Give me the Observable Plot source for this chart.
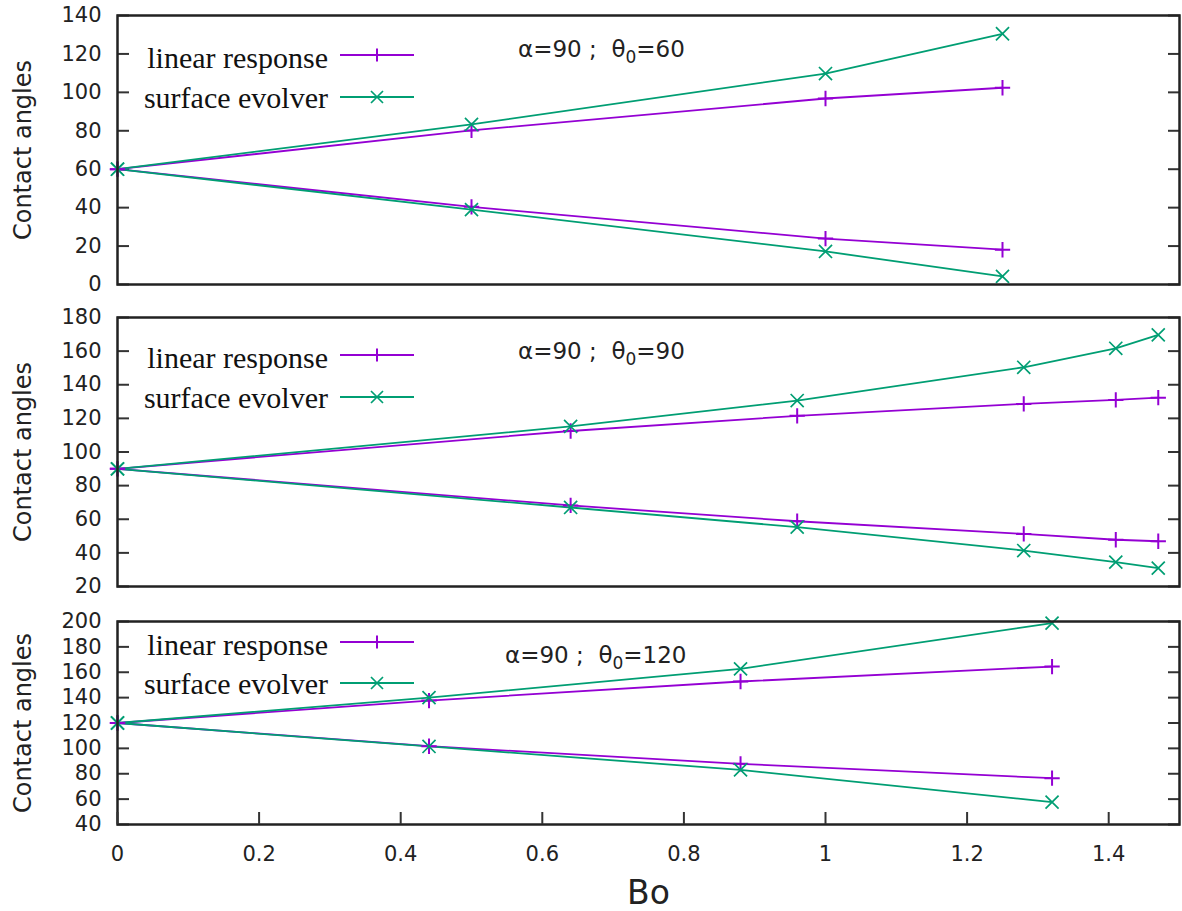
<!DOCTYPE html>
<html><head><meta charset="utf-8">
<script src="https://cdn.jsdelivr.net/npm/d3@7"></script>
<script src="https://cdn.jsdelivr.net/npm/@observablehq/plot@0.6"></script>
<style>
body{margin:0;background:#fff;}
#chart{position:relative;width:1182px;height:911px;}
#chart svg.panel{display:block;}
#overlay{position:absolute;left:0;top:0;pointer-events:none;}
</style></head><body><div id="chart"></div>
<script>
// ---- data ----
const seriesNames = ["linear response", "surface evolver"];
const seriesColors = ["#9400d3", "#009e73"];
const seriesSymbols = ["plus", "times"];

// panel 1: alpha=90, theta0=60
const bo60 = [0, 0.5, 1, 1.25];
const lin60Up = [60, 80.2, 96.8, 102.4];
const lin60Down = [60, 40.4, 23.9, 18.1];
const se60Up = [60, 83.3, 109.8, 130.5];
const se60Down = [60, 39, 17.2, 4.2];

// panel 2: alpha=90, theta0=90
const bo90 = [0, 0.64, 0.96, 1.28, 1.41, 1.47];
const lin90Up = [90, 112.5, 121.5, 128.6, 131, 132.3];
const lin90Down = [90, 68.2, 58.8, 51.3, 47.8, 46.9];
const se90Up = [90, 115.2, 130.6, 150.4, 161.7, 169.7];
const se90Down = [90, 67, 55.3, 41.4, 34.5, 30.9];

// panel 3: alpha=90, theta0=120
const bo120 = [0, 0.44, 0.88, 1.32];
const lin120Up = [120, 137.7, 152.7, 164.5];
const lin120Down = [120, 101.7, 87.8, 76.5];
const se120Up = [120, 140, 162.7, 198.7];
const se120Down = [120, 101.5, 83, 57.6];

const xTicks = [0, 0.2, 0.4, 0.6, 0.8, 1, 1.2, 1.4];
const yTicks60 = [0, 20, 40, 60, 80, 100, 120, 140];
const yTicks90 = [20, 40, 60, 80, 100, 120, 140, 160, 180];
const yTicks120 = [40, 60, 80, 100, 120, 140, 160, 180, 200];
const theta0Labels = ["60", "90", "120"];
const yLabel = "Contact angles";
const xLabel = "Bo";

// ---- build ----
function rows(bo, linUp, linDown, seUp, seDown) {
  const out = [];
  const add = (vals, method, branch) => vals.forEach((v, i) => out.push({x: bo[i], y: v, method, branch}));
  add(linUp, seriesNames[0], "up");
  add(linDown, seriesNames[0], "down");
  add(seUp, seriesNames[1], "up");
  add(seDown, seriesNames[1], "down");
  return out;
}

const frameColor = "#222";
function panel(data, yDomain, yTicks, height, mt, mb, bottom) {
  const marks = [
    Plot.axisY(yTicks, {anchor: "left", tickSize: 0, tickPadding: 16, fontSize: 21, label: null}),
    Plot.axisY(yTicks, {anchor: "left", tickSize: 12, dx: 12, fill: "none", label: null, stroke: "#333", strokeWidth: 2}),
    Plot.axisY(yTicks, {anchor: "right", tickSize: 12, dx: -12, fill: "none", label: null, stroke: "#333", strokeWidth: 2}),
    Plot.line(data, {x: "x", y: "y", z: d => d.method + d.branch, stroke: "method", strokeWidth: 1.8}),
    Plot.dot(data.filter(d => d.method === seriesNames[0]), {x: "x", y: "y", symbol: "method", stroke: "method", r: 5, strokeWidth: 2}),
    Plot.dot(data.filter(d => d.method === seriesNames[1]), {x: "x", y: "y", symbol: "method", stroke: "method", r: 6, strokeWidth: 1.7}),
    Plot.frame({stroke: frameColor, strokeWidth: 2.5}),
    Plot.text([yLabel], {frameAnchor: "left", textAnchor: "middle", rotate: -90, dx: -94, fontSize: 24})
  ];
  if (bottom) {
    marks.push(
      Plot.axisX(xTicks, {anchor: "bottom", tickSize: 0, tickPadding: 22, fontSize: 21, tickFormat: d => String(d), label: null}),
      Plot.axisX(xTicks, {anchor: "bottom", tickSize: 12, dy: -12, fill: "none", label: null, stroke: "#333", strokeWidth: 2}),
      Plot.text([xLabel], {frameAnchor: "bottom", dy: 79, fontSize: 33})
    );
  }
  const svg = Plot.plot({
    width: 1182, height,
    marginLeft: 117, marginRight: 3, marginTop: mt, marginBottom: mb,
    x: {domain: [0, 1.5], axis: null},
    y: {domain: yDomain, axis: null},
    color: {domain: seriesNames, range: seriesColors},
    symbol: {domain: seriesNames, range: seriesSymbols},
    style: {fontFamily: "DejaVu Sans", fontSize: "21px", color: "#222", background: "transparent", overflow: "visible"},
    marks
  });
  svg.classList.add("panel");
  return svg;
}

const chart = document.getElementById("chart");
chart.append(panel(rows(bo60, lin60Up, lin60Down, se60Up, se60Down), [0, 140], yTicks60, 300, 15, 16, false));
chart.append(panel(rows(bo90, lin90Up, lin90Down, se90Up, se90Down), [20, 180], yTicks90, 300, 17, 14, false));
chart.append(panel(rows(bo120, lin120Up, lin120Down, se120Up, se120Down), [40, 200], yTicks120, 311, 21, 87, true));

// ---- overlay: legends and annotations ----
const ns = "http://www.w3.org/2000/svg";
const ov = document.createElementNS(ns, "svg");
ov.setAttribute("id", "overlay");
ov.setAttribute("width", 1182);
ov.setAttribute("height", 911);
chart.append(ov);
function el(tag, attrs, parent) {
  const e = document.createElementNS(ns, tag);
  for (const k in attrs) e.setAttribute(k, attrs[k]);
  (parent || ov).append(e);
  return e;
}
const legendRows = [[55, 97], [355, 397], [642, 683]];
const annot = [{x: 518, y: 57}, {x: 518, y: 359}, {x: 505, y: 663}];
legendRows.forEach((ys, p) => {
  ys.forEach((y, i) => {
    const t = el("text", {x: 328, y: y + (i === 0 ? 13 : 11), "text-anchor": "end", "font-family": "Liberation Serif", "font-size": 30, fill: "#111"});
    t.textContent = seriesNames[i];
    el("line", {x1: 340, x2: 414, y1: y, y2: y, stroke: seriesColors[i], "stroke-width": 1.8});
    const s = i === 0 ? 6.5 : 6;
    if (i === 0) {
      el("path", {d: `M${377 - s},${y}H${377 + s}M377,${y - s}V${y + s}`, stroke: seriesColors[i], "stroke-width": 2, fill: "none"});
    } else {
      el("path", {d: `M${377 - s},${y - s}L${377 + s},${y + s}M${377 - s},${y + s}L${377 + s},${y - s}`, stroke: seriesColors[i], "stroke-width": 1.7, fill: "none"});
    }
  });
  const a = annot[p];
  const t = el("text", {x: a.x, y: a.y, "font-family": "DejaVu Sans", "font-size": 23, fill: "#222", style: "white-space:pre"});
  const t1 = el("tspan", {}, t); t1.textContent = "α=90 ;  θ";
  const t2 = el("tspan", {dy: 6, "font-size": 17}, t); t2.textContent = "0";
  const t3 = el("tspan", {dy: -6}, t); t3.textContent = "=" + theta0Labels[p];
});
</script></body></html>
